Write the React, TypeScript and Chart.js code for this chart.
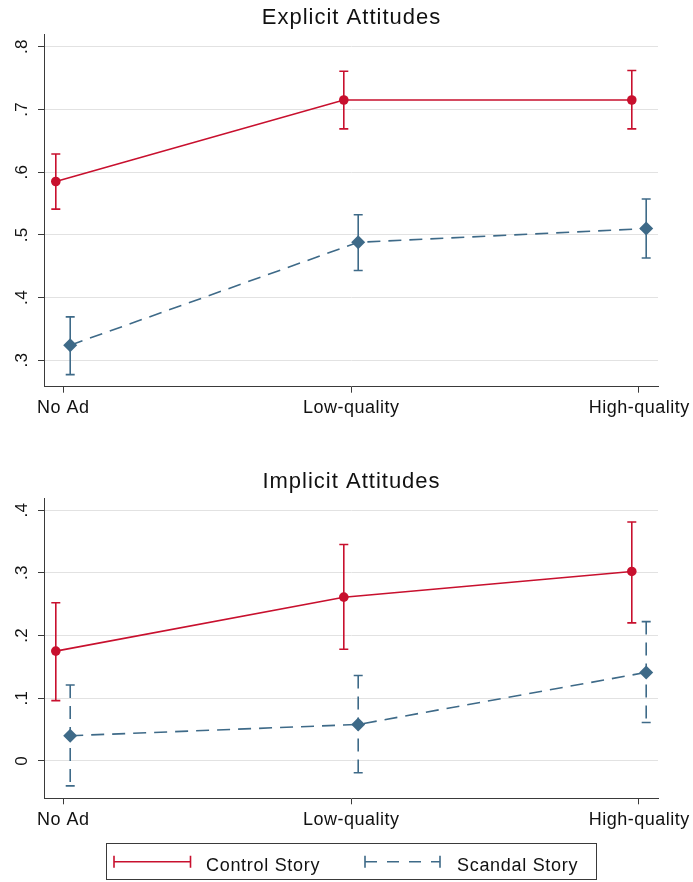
import React, { useEffect, useRef } from 'react';
import { Chart, registerables } from 'chart.js';

Chart.register(...registerables);

// ---------- data ----------
const categories = ['No Ad', 'Low-quality', 'High-quality'];
const seriesNames = ['Control Story', 'Scandal Story'];

const explicitControl = [0.585, 0.715, 0.715];
const explicitControlLow = [0.541, 0.669, 0.669];
const explicitControlHigh = [0.629, 0.761, 0.762];
const explicitScandal = [0.324, 0.488, 0.51];
const explicitScandalLow = [0.277, 0.443, 0.463];
const explicitScandalHigh = [0.369, 0.532, 0.557];

const implicitControl = [0.175, 0.261, 0.302];
const implicitControlLow = [0.096, 0.178, 0.22];
const implicitControlHigh = [0.252, 0.345, 0.381];
const implicitScandal = [0.04, 0.058, 0.141];
const implicitScandalLow = [-0.04, -0.019, 0.061];
const implicitScandalHigh = [0.121, 0.136, 0.222];

const explicitTicks = [0.3, 0.4, 0.5, 0.6, 0.7, 0.8];
const explicitTickLabels = ['.3', '.4', '.5', '.6', '.7', '.8'];
const implicitTicks = [0, 0.1, 0.2, 0.3, 0.4];
const implicitTickLabels = ['0', '.1', '.2', '.3', '.4'];

// ---------- style ----------
const RED = '#C8102E';
const BLUE = '#3E6A88';
const AXIS = '#3a3a3a';
const GRID = '#e2e2e2';
const TEXT = '#111111';
const FONT = '"Liberation Sans", Arial, Helvetica, sans-serif';
const OFFSET = 0.025;

type Panel = {
  title: string;
  control: number[];
  controlLow: number[];
  controlHigh: number[];
  scandal: number[];
  scandalLow: number[];
  scandalHigh: number[];
  ticks: number[];
  tickLabels: string[];
  yMin: number;
  yMax: number;
  padTop: number;
  xHeight: number;
  height: number;
  dashedScandalBars: boolean;
  legend: boolean;
};

function setSpacing(ctx: any, px: number) {
  try {
    ctx.letterSpacing = `${px}px`;
  } catch (e) {
    /* ignore */
  }
}

function drawBar(ctx: CanvasRenderingContext2D, x: number, y1: number, y2: number, color: string, dash: number[]) {
  ctx.save();
  ctx.strokeStyle = color;
  ctx.lineWidth = 1.6;
  ctx.setLineDash(dash);
  ctx.beginPath();
  ctx.moveTo(x, y2);
  ctx.lineTo(x, y1);
  ctx.stroke();
  ctx.setLineDash([]);
  ctx.beginPath();
  ctx.moveTo(x - 4.5, y1);
  ctx.lineTo(x + 4.5, y1);
  ctx.moveTo(x - 4.5, y2);
  ctx.lineTo(x + 4.5, y2);
  ctx.stroke();
  ctx.restore();
}

function makeConfig(p: Panel): any {
  const errorBars = {
    id: 'errorBars',
    beforeDatasetsDraw(chart: any) {
      const ctx = chart.ctx;
      const ys = chart.scales.y;
      const sets = [
        { lo: p.controlLow, hi: p.controlHigh, color: RED, dash: [] as number[] },
        { lo: p.scandalLow, hi: p.scandalHigh, color: BLUE, dash: p.dashedScandalBars ? [13, 8] : [] },
      ];
      sets.forEach((s, di) => {
        const meta = chart.getDatasetMeta(di);
        meta.data.forEach((el: any, i: number) => {
          drawBar(ctx, el.x, ys.getPixelForValue(s.lo[i]), ys.getPixelForValue(s.hi[i]), s.color, s.dash);
        });
      });
    },
  };

  const labels = {
    id: 'labels',
    afterDraw(chart: any) {
      const ctx = chart.ctx;
      const ca = chart.chartArea;
      const xs = chart.scales.x;
      const ys = chart.scales.y;
      ctx.save();
      ctx.fillStyle = TEXT;
      // title
      ctx.font = `22px ${FONT}`;
      setSpacing(ctx, 1);
      ctx.textAlign = 'center';
      ctx.textBaseline = 'alphabetic';
      ctx.fillText(p.title, (ca.left + ca.right) / 2 + 0.5, ca.top - 10.5);
      // y tick labels (rotated)
      ctx.font = `17px ${FONT}`;
      setSpacing(ctx, 0.3);
      p.ticks.forEach((v, i) => {
        const y = ys.getPixelForValue(v);
        ctx.save();
        ctx.translate(27, y);
        ctx.rotate(-Math.PI / 2);
        ctx.fillText(p.tickLabels[i], 0, 0);
        ctx.restore();
      });
      // x tick labels
      ctx.font = `18px ${FONT}`;
      setSpacing(ctx, 0.5);
      categories.forEach((c, i) => {
        ctx.fillText(c, xs.getPixelForValue(i) + 0.25, ca.bottom + 26.5);
      });
      // legend
      if (p.legend) {
        const top = 403.5;
        const bottom = 439.5;
        ctx.strokeStyle = AXIS;
        ctx.lineWidth = 1;
        ctx.strokeRect(106.5, top, 490, bottom - top);
        const ly = 421.7;
        // control
        ctx.strokeStyle = RED;
        ctx.lineWidth = 1.6;
        ctx.beginPath();
        ctx.moveTo(114, ly);
        ctx.lineTo(190.5, ly);
        ctx.moveTo(114, ly - 6);
        ctx.lineTo(114, ly + 6);
        ctx.moveTo(190.5, ly - 6);
        ctx.lineTo(190.5, ly + 6);
        ctx.stroke();
        // scandal
        ctx.strokeStyle = BLUE;
        ctx.beginPath();
        ctx.moveTo(365, ly - 6);
        ctx.lineTo(365, ly + 6);
        ctx.moveTo(440, ly - 6);
        ctx.lineTo(440, ly + 6);
        ctx.stroke();
        ctx.setLineDash([12, 10]);
        ctx.beginPath();
        ctx.moveTo(365, ly);
        ctx.lineTo(440, ly);
        ctx.stroke();
        ctx.setLineDash([]);
        ctx.fillStyle = TEXT;
        ctx.font = `18px ${FONT}`;
        setSpacing(ctx, 0.7);
        ctx.textAlign = 'left';
        ctx.fillText(seriesNames[0], 206, ly + 9.5);
        ctx.fillText(seriesNames[1], 457, ly + 9.5);
      }
      ctx.restore();
    },
  };

  return {
    type: 'line',
    data: {
      datasets: [
        {
          label: seriesNames[0],
          data: categories.map((_, i) => ({ x: i - OFFSET, y: p.control[i] })),
          borderColor: RED,
          backgroundColor: RED,
          borderWidth: 1.6,
          pointStyle: 'circle',
          pointRadius: 4.8,
          pointBorderWidth: 0,
          pointBackgroundColor: RED,
          tension: 0,
        },
        {
          label: seriesNames[1],
          data: categories.map((_, i) => ({ x: i + OFFSET, y: p.scandal[i] })),
          borderColor: BLUE,
          backgroundColor: BLUE,
          borderWidth: 1.6,
          borderDash: [13, 8],
          pointStyle: 'rectRot',
          pointRadius: 7,
          pointBorderWidth: 0,
          pointBackgroundColor: BLUE,
          tension: 0,
        },
      ],
    },
    options: {
      animation: false,
      responsive: false,
      devicePixelRatio: 1,
      layout: { padding: { top: p.padTop, right: 35, left: 0, bottom: 0 } },
      plugins: {
        legend: { display: false },
        title: { display: false },
        tooltip: { enabled: false },
      },
      events: [],
      scales: {
        x: {
          type: 'linear',
          min: -0.066,
          max: 2.066,
          afterBuildTicks: (s: any) => {
            s.ticks = categories.map((_, i) => ({ value: i }));
          },
          afterFit: (s: any) => {
            s.height = p.xHeight;
          },
          ticks: { display: false },
          grid: { drawOnChartArea: false, drawTicks: true, tickLength: 6, tickColor: AXIS, tickWidth: 1 },
          border: { display: true, color: AXIS, width: 1 },
        },
        y: {
          type: 'linear',
          min: p.yMin,
          max: p.yMax,
          afterBuildTicks: (s: any) => {
            s.ticks = p.ticks.map((v) => ({ value: v }));
          },
          afterFit: (s: any) => {
            s.width = 44;
          },
          ticks: { display: false },
          grid: { color: GRID, lineWidth: 1, drawTicks: true, tickLength: 6, tickColor: AXIS, tickWidth: 1 },
          border: { display: true, color: AXIS, width: 1 },
        },
      },
    },
    plugins: [errorBars, labels],
  };
}

const topPanel: Panel = {
  title: 'Explicit Attitudes',
  control: explicitControl,
  controlLow: explicitControlLow,
  controlHigh: explicitControlHigh,
  scandal: explicitScandal,
  scandalLow: explicitScandalLow,
  scandalHigh: explicitScandalHigh,
  ticks: explicitTicks,
  tickLabels: explicitTickLabels,
  yMin: 0.2577,
  yMax: 0.8203,
  padTop: 34,
  xHeight: 53.3,
  height: 440,
  dashedScandalBars: false,
  legend: false,
};

const bottomPanel: Panel = {
  title: 'Implicit Attitudes',
  control: implicitControl,
  controlLow: implicitControlLow,
  controlHigh: implicitControlHigh,
  scandal: implicitScandal,
  scandalLow: implicitScandalLow,
  scandalHigh: implicitScandalHigh,
  ticks: implicitTicks,
  tickLabels: implicitTickLabels,
  yMin: -0.0598,
  yMax: 0.4187,
  padTop: 58.3,
  xHeight: 83.7,
  height: 442,
  dashedScandalBars: true,
  legend: true,
};

function PanelChart({ panel, top }: { panel: Panel; top: number }) {
  const ref = useRef<HTMLCanvasElement | null>(null);
  useEffect(() => {
    if (!ref.current) return;
    const chart = new Chart(ref.current, makeConfig(panel));
    return () => chart.destroy();
  }, [panel]);
  return (
    <canvas
      ref={ref}
      width={693}
      height={panel.height}
      style={{ position: 'absolute', left: 0, top, width: 693, height: panel.height, display: 'block' }}
    />
  );
}

export default function App() {
  return (
    <div style={{ position: 'absolute', left: 0, top: 0, width: 693, height: 882, background: '#ffffff' }}>
      <PanelChart panel={topPanel} top={0} />
      <PanelChart panel={bottomPanel} top={440} />
    </div>
  );
}
